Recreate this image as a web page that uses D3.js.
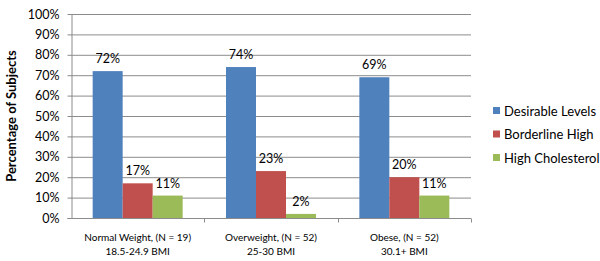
<!DOCTYPE html>
<html>
<head>
<meta charset="utf-8">
<script src="https://cdn.jsdelivr.net/npm/d3@7"></script>
<style>
body { margin: 0; background: #fff; }
text { font-family: Lato, "Open Sans", sans-serif; fill: #000; }
</style>
</head>
<body>
<div id="chart-area"></div>
<script>
// data
var categories = ["Normal Weight, (N = 19)|18.5-24.9 BMI", "Overweight, (N = 52)|25-30 BMI", "Obese, (N = 52)|30.1+ BMI"];
var seriesNames = ["Desirable Levels", "Borderline High", "High Cholesterol"];
var desirable = [72, 74, 69];
var borderline = [17, 23, 20];
var highChol = [11, 2, 11];
var yTicks = [0, 10, 20, 30, 40, 50, 60, 70, 80, 90, 100];
var colors = ["#4F81BD", "#C0504D", "#9BBB59"];

var series = [desirable, borderline, highChol];

var margin = {top: 14, right: 129, bottom: 43, left: 71};
var width = 600 - margin.left - margin.right,
    height = 261 - margin.top - margin.bottom;

var svg = d3.select("#chart-area").append("svg")
    .attr("width", 600)
    .attr("height", 261)
    .append("g")
    .attr("transform", "translate(" + margin.left + "," + margin.top + ")");

// Scales
var x = d3.scaleBand()
    .domain(categories)
    .range([0, width]);

var xInner = d3.scaleBand()
    .domain(d3.range(seriesNames.length))
    .range([0, 90]);

var y = d3.scaleLinear()
    .domain([0, 100])
    .range([height, 0]);

// Gridlines
svg.selectAll(".grid")
    .data(yTicks.slice(1))
    .enter().append("line")
    .attr("x1", 0)
    .attr("x2", width)
    .attr("y1", function(d) { return y(d) + 0.5; })
    .attr("y2", function(d) { return y(d) + 0.5; })
    .attr("stroke", "#8c8c8c")
    .attr("stroke-width", 1);

// Y axis
var yAxis = d3.axisLeft(y)
    .tickValues(yTicks)
    .tickSize(4)
    .tickFormat(function(d) { return d + "%"; });

var yAxisGroup = svg.append("g")
    .attr("transform", "translate(0.5,0)")
    .call(yAxis);
yAxisGroup.select(".domain").attr("stroke", "#8c8c8c").attr("d", "M-4," + (height + 0.5) + "H0.5V0");
yAxisGroup.selectAll(".tick line").attr("stroke", "#8c8c8c");
yAxisGroup.selectAll("text")
    .attr("x", -12)
    .style("font-size", "12.5px");

// X axis
var xAxisGroup = svg.append("g")
    .attr("transform", "translate(0," + (height + 0.5) + ")");
xAxisGroup.append("line")
    .attr("x1", 0).attr("x2", width)
    .attr("stroke", "#8c8c8c");
xAxisGroup.selectAll(".xtick")
    .data(categories)
    .enter().append("line")
    .attr("x1", function(d) { return Math.round(x(d) + x.bandwidth()) + 0.5; })
    .attr("x2", function(d) { return Math.round(x(d) + x.bandwidth()) + 0.5; })
    .attr("y1", 0).attr("y2", 4)
    .attr("stroke", "#8c8c8c");

var catLabels = xAxisGroup.selectAll(".cat")
    .data(categories)
    .enter().append("text")
    .attr("text-anchor", "middle")
    .style("font-size", "10px")
    .attr("transform", function(d) { return "translate(" + (x(d) + x.bandwidth() / 2) + ",0)"; });
catLabels.append("tspan").attr("x", 0).attr("y", 22.5).text(function(d) { return d.split("|")[0]; });
catLabels.append("tspan").attr("x", 0).attr("y", 36.5).text(function(d) { return d.split("|")[1]; });

// Bars
var groups = svg.selectAll(".group")
    .data(categories)
    .enter().append("g")
    .attr("transform", function(d) { return "translate(" + (x(d) + (x.bandwidth() - 90) / 2) + ",0)"; });

groups.selectAll("rect")
    .data(function(d, i) { return series.map(function(s, j) { return {s: j, v: s[i]}; }); })
    .enter().append("rect")
    .attr("x", function(d) { return xInner(d.s); })
    .attr("width", xInner.bandwidth())
    .attr("y", function(d) { return y(d.v); })
    .attr("height", function(d) { return height - y(d.v); })
    .attr("fill", function(d) { return colors[d.s]; });

groups.selectAll(".lbl")
    .data(function(d, i) { return series.map(function(s, j) { return {s: j, v: s[i]}; }); })
    .enter().append("text")
    .attr("text-anchor", "middle")
    .style("font-size", "12.5px")
    .attr("x", function(d) { return xInner(d.s) + xInner.bandwidth() / 2; })
    .attr("y", function(d) { return y(d.v) - 8; })
    .text(function(d) { return d.v + "%"; });

// Y axis title
svg.append("text")
    .attr("transform", "rotate(-90)")
    .attr("x", -height / 2)
    .attr("y", -55)
    .attr("text-anchor", "middle")
    .style("font-size", "13px")
    .style("font-weight", "bold")
    .text("Percentage of Subjects");

// Legend
var legend = svg.selectAll(".legend")
    .data(seriesNames)
    .enter().append("g")
    .attr("transform", function(d, i) { return "translate(" + (width + 22) + "," + (97 + i * 23.5) + ")"; });
legend.append("rect")
    .attr("x", 0).attr("y", -4)
    .attr("width", 7).attr("height", 7)
    .attr("fill", function(d, i) { return colors[i]; });
legend.append("text")
    .attr("x", 11)
    .attr("y", 4.5)
    .style("font-size", "13px")
    .text(function(d) { return d; });
</script>
</body>
</html>
